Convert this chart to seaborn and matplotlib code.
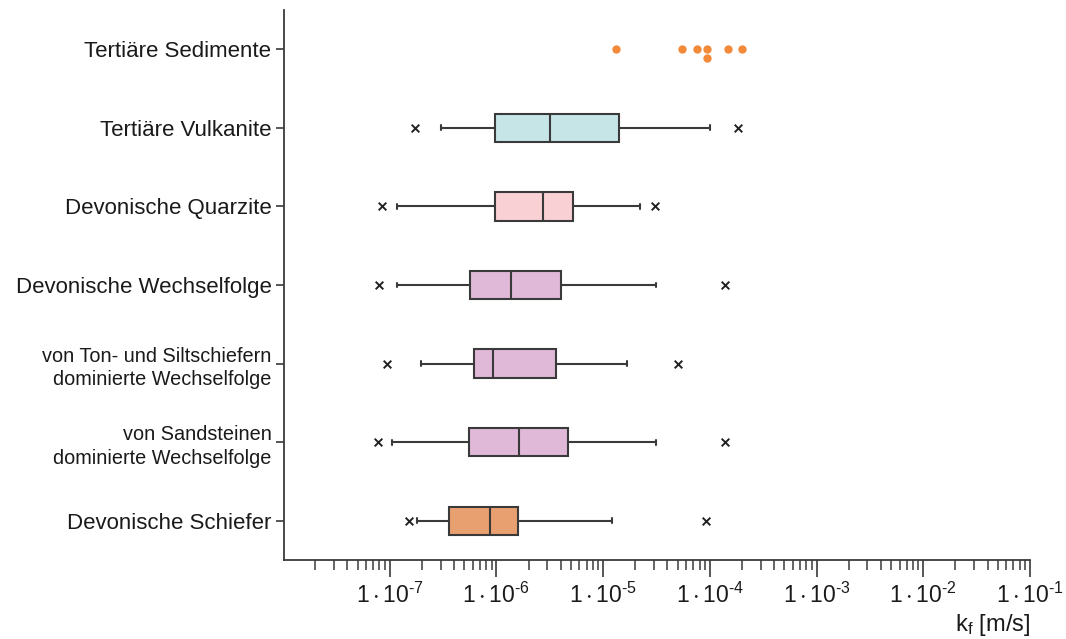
import numpy as np
import pandas as pd
import matplotlib
matplotlib.use("Agg")
import matplotlib.pyplot as plt
from matplotlib.ticker import FuncFormatter, LogLocator, NullFormatter
import seaborn as sns

# Hydraulic conductivity k_f [m/s] per rock unit (top to bottom)
categories = [
    "Tertiäre Sedimente",
    "Tertiäre Vulkanite",
    "Devonische Quarzite",
    "Devonische Wechselfolge",
    "von Ton- und Siltschiefern\ndominierte Wechselfolge",
    "von Sandsteinen\ndominierte Wechselfolge",
    "Devonische Schiefer",
]

# Box statistics for the units that have a box (whisker ends, quartiles, median)
box_units = categories[1:]
whisker_low = [3.05e-7, 1.17e-7, 1.17e-7, 1.98e-7, 1.04e-7, 1.80e-7]
quart_low = [9.6e-7, 9.6e-7, 5.7e-7, 6.1e-7, 5.5e-7, 3.6e-7]
median = [3.16e-6, 2.74e-6, 1.38e-6, 9.2e-7, 1.63e-6, 8.7e-7]
quart_high = [1.40e-5, 5.2e-6, 4.0e-6, 3.6e-6, 4.67e-6, 1.60e-6]
whisker_high = [1.0e-4, 2.2e-5, 3.16e-5, 1.68e-5, 3.16e-5, 1.21e-5]

# Extreme values (minimum / maximum) drawn as crosses
extreme_min = [1.71e-7, 8.4e-8, 7.9e-8, 9.4e-8, 7.8e-8, 1.52e-7]
extreme_max = [1.84e-4, 3.05e-5, 1.38e-4, 5.05e-5, 1.38e-4, 9.2e-5]

# Single measurements of the Tertiary sediments
sediment_values = [1.33e-5, 5.5e-5, 7.5e-5, 9.5e-5, 9.5e-5, 1.47e-4, 2.0e-4]

box_colors = {
    "Tertiäre Vulkanite": "#c6e5e7",
    "Devonische Quarzite": "#f9d1d5",
    "Devonische Wechselfolge": "#e0b9d8",
    "von Ton- und Siltschiefern\ndominierte Wechselfolge": "#e0b9d8",
    "von Sandsteinen\ndominierte Wechselfolge": "#e0b9d8",
    "Devonische Schiefer": "#e9a070",
}

# Five values per unit reproduce the box statistics exactly with whis=(0, 100)
rows = []
for i, unit in enumerate(box_units):
    for v in (whisker_low[i], quart_low[i], median[i], quart_high[i], whisker_high[i]):
        rows.append({"unit": unit, "kf": v})
box_df = pd.DataFrame(rows)

ext_df = pd.DataFrame({
    "unit": box_units + box_units,
    "kf": extreme_min + extreme_max,
})
sed_df = pd.DataFrame({"unit": [categories[0]] * len(sediment_values),
                       "kf": sediment_values})

sns.set_theme(style="ticks")
plt.rcParams["font.family"] = ["Liberation Sans", "DejaVu Sans"]
plt.rcParams["mathtext.fontset"] = "custom"
plt.rcParams["mathtext.rm"] = "Liberation Sans"
plt.rcParams["mathtext.it"] = "Liberation Sans:italic"

edge = "#3a3a3a"
fig = plt.figure(figsize=(10.66, 6.39), dpi=100)
ax = fig.add_axes([0.2664, 0.1236, 0.6998, 0.8608])

sns.boxplot(
    data=box_df, x="kf", y="unit", order=categories, hue="unit",
    palette=box_colors, legend=False, log_scale=True, whis=(0, 100),
    width=0.36, saturation=1, linewidth=1.5, linecolor=edge,
    capwidths=0.06, ax=ax,
)
sns.stripplot(
    data=ext_df, x="kf", y="unit", order=categories, jitter=False,
    marker="x", color="#222222", size=5.5, linewidth=1.4, ax=ax,
)
sns.swarmplot(
    data=sed_df, x="kf", y="unit", order=categories, color="#f28a3a",
    size=6, ax=ax,
)

ax.set_xscale("log")
ax.set_xlim(1.02e-8, 1e-1)
ax.set_ylim(6.5, -0.5)


def decade_label(v, pos):
    exp = int(round(np.log10(v)))
    sign = "\u2010" if exp < 0 else ""
    return r"$\mathregular{1\cdot10^{%s%d}}$" % (sign, abs(exp))


ax.xaxis.set_major_locator(LogLocator(base=10, numticks=20))
ax.xaxis.set_minor_locator(LogLocator(base=10, subs=np.arange(2, 10), numticks=20))
ax.xaxis.set_major_formatter(FuncFormatter(decade_label))
ax.xaxis.set_minor_formatter(NullFormatter())

ax.tick_params(axis="x", which="major", length=12, width=1.2, color=edge,
               labelsize=16.5, pad=4)
ax.tick_params(axis="x", which="minor", length=7, width=1.1, color=edge)
ax.tick_params(axis="y", length=6, width=1.2, color=edge, labelsize=16, pad=3)

for lbl in ax.get_yticklabels():
    if "\n" in lbl.get_text():
        lbl.set_fontsize(14.3)
        lbl.set_linespacing(1.3)
    lbl.set_color("#1a1a1a")
for lbl in ax.get_xticklabels():
    lbl.set_color("#1a1a1a")

ax.set_ylabel("")
ax.set_xlabel(r"$\mathregular{k_f}$ [m/s]", fontsize=17, color="#1a1a1a")
ax.xaxis.set_label_coords(1.0, -0.095)
ax.xaxis.label.set_horizontalalignment("right")

sns.despine(ax=ax)
for side in ("left", "bottom"):
    ax.spines[side].set_color(edge)
    ax.spines[side].set_linewidth(1.3)

fig.savefig("out.png", dpi=100)
